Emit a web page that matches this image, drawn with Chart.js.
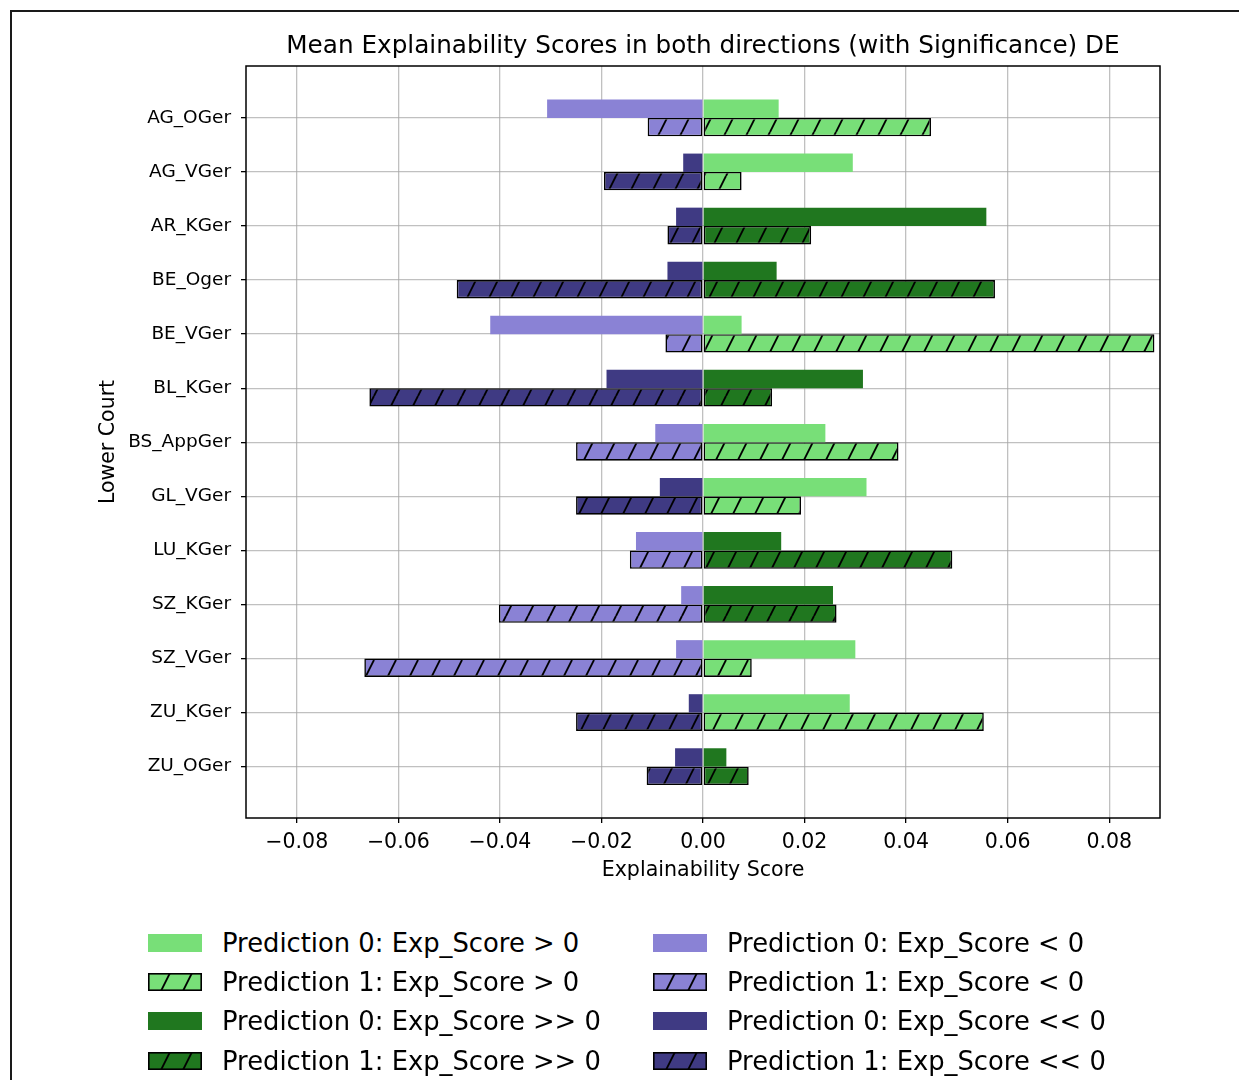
<!DOCTYPE html>
<html>
<head>
<meta charset="utf-8">
<script src="https://cdn.jsdelivr.net/npm/chart.js@4.4.0/dist/chart.umd.min.js"></script>
<style>
    body { margin: 0; background: #fff; font-family: 'DejaVu Sans', sans-serif; }
    #page { position: relative; width: 1239px; height: 1080px; overflow: hidden; background: #fff; }
    #frame { position: absolute; left: 10px; top: 10px; width: 1400px; height: 1200px;
             border-top: 2px solid #1a1a1a; border-left: 2px solid #1a1a1a; }
    #my-chart { position: absolute; left: 0; top: 0; }
    #title { position: absolute; left: 203px; width: 1000px; top: 29px; text-align: center;
             font-size: 24.7px; line-height: 32px; color: #000; white-space: nowrap; }
    #legend { position: absolute; left: 148px; top: 923px; display: grid;
              grid-template-columns: 505px auto; grid-auto-rows: 39.4px; }
    .item { display: flex; align-items: center; font-size: 25.8px; color: #000; white-space: nowrap; }
    .item canvas { margin-right: 20px; }
</style>
</head>
<body>
<div id="page">
    <div id="frame"></div>
    <canvas id="my-chart" width="1239" height="900"></canvas>
    <div id="title">Mean Explainability Scores in both directions (with Significance) DE</div>
    <div id="legend"></div>
</div>
<script>
const courts = ['AG_OGer', 'AG_VGer', 'AR_KGer', 'BE_Oger', 'BE_VGer', 'BL_KGer', 'BS_AppGer',
    'GL_VGer', 'LU_KGer', 'SZ_KGer', 'SZ_VGer', 'ZU_KGer', 'ZU_OGer'];

// mean positive / negative scores, prediction 0 and prediction 1
const pred0Pos = [0.0149, 0.0295, 0.0558, 0.0145, 0.0076, 0.0315, 0.0241, 0.0322, 0.0154, 0.0256, 0.0300, 0.0289, 0.0046];
const pred0Neg = [-0.0307, -0.0039, -0.0053, -0.0070, -0.0419, -0.0190, -0.0094, -0.0085, -0.0132, -0.0043, -0.0053, -0.0028, -0.0055];
const pred1Pos = [0.0449, 0.0076, 0.0213, 0.0575, 0.0889, 0.0136, 0.0385, 0.0193, 0.0491, 0.0263, 0.0096, 0.0553, 0.0090];
const pred1Neg = [-0.0109, -0.0195, -0.0070, -0.0485, -0.0074, -0.0657, -0.0250, -0.0250, -0.0144, -0.0402, -0.0667, -0.0250, -0.0111];

// 1 = significant (>> 0 / << 0)
const posSignificant = [0, 0, 1, 1, 0, 1, 0, 0, 1, 1, 0, 0, 1];
const negSignificant = [0, 1, 1, 1, 0, 1, 0, 1, 0, 0, 0, 1, 1];

const xTicks = [-0.08, -0.06, -0.04, -0.02, 0, 0.02, 0.04, 0.06, 0.08];

const colors = {
    lightGreen: '#78df78',
    darkGreen: '#20771f',
    lightPurple: '#8a82d5',
    darkPurple: '#3f3a83'
};

const FONT = 'DejaVu Sans';

// diagonal "/" hatch on top of a fill colour
function hatch(ctx, color) {
    const tile = document.createElement('canvas');
    tile.width = 22;
    tile.height = 44;
    const g = tile.getContext('2d');
    g.fillStyle = color;
    g.fillRect(0, 0, 22, 44);
    g.strokeStyle = '#000';
    g.lineWidth = 1.9;
    for (let k = -1; k <= 1; k++) {
        g.beginPath();
        g.moveTo(k * 22, 44);
        g.lineTo(k * 22 + 22, 0);
        g.stroke();
    }
    return ctx.createPattern(tile, 'repeat');
}

const canvas = document.getElementById('my-chart');
const ctx = canvas.getContext('2d');

const posColor = (i) => posSignificant[i] ? colors.darkGreen : colors.lightGreen;
const negColor = (i) => negSignificant[i] ? colors.darkPurple : colors.lightPurple;

const toPoints = (values) => values.map((v, i) => ({ x: v, y: i }));

const solid = { borderWidth: 0 };
const hatched = { borderWidth: 1.6, borderColor: '#000', borderSkipped: false };

const data = {
    datasets: [
        { label: 'pred0 pos', stack: 'p0', data: toPoints(pred0Pos), backgroundColor: courts.map((c, i) => posColor(i)), ...solid },
        { label: 'pred0 neg', stack: 'p0', data: toPoints(pred0Neg), backgroundColor: courts.map((c, i) => negColor(i)), ...solid },
        { label: 'pred1 pos', stack: 'p1', data: toPoints(pred1Pos), backgroundColor: courts.map((c, i) => hatch(ctx, posColor(i))), ...hatched },
        { label: 'pred1 neg', stack: 'p1', data: toPoints(pred1Neg), backgroundColor: courts.map((c, i) => hatch(ctx, negColor(i))), ...hatched }
    ]
};

// black box around the plot area
const axesFrame = {
    id: 'axesFrame',
    afterDraw(chart) {
        const { ctx, chartArea: a } = chart;
        ctx.save();
        ctx.strokeStyle = '#000';
        ctx.lineWidth = 1.5;
        ctx.strokeRect(a.left, a.top, a.right - a.left, a.bottom - a.top);
        ctx.restore();
    }
};

const gridStyle = { color: 'rgba(165,165,165,0.7)', lineWidth: 1.3, tickColor: '#000', tickLength: 5, tickWidth: 1.3, offset: false };

const config = {
    type: 'bar',
    data,
    options: {
        indexAxis: 'y',
        responsive: false,
        animation: false,
        categoryPercentage: 0.68,
        barPercentage: 1.0,
        layout: { padding: { left: 92, right: 79, top: 66, bottom: 13 } },
        plugins: {
            legend: { display: false },
            tooltip: { enabled: false }
        },
        scales: {
            x: {
                type: 'linear',
                min: -0.09,
                max: 0.09,
                stacked: true,
                z: 1,
                afterBuildTicks: (s) => { s.ticks = xTicks.map(v => ({ value: v })); },
                afterFit: (s) => { s.height = 69; },
                ticks: {
                    color: '#000',
                    padding: 7,
                    font: { family: FONT, size: 20.5 },
                    callback: (v) => (v < 0 ? '\u2212' : '') + Math.abs(v).toFixed(2)
                },
                grid: gridStyle,
                border: { display: false },
                title: { display: true, text: 'Explainability Score', color: '#000', font: { family: FONT, size: 20.6 } }
            },
            y: {
                type: 'linear',
                reverse: true,
                offset: false,
                min: -0.96,
                max: 12.95,
                stacked: true,
                z: 1,
                afterBuildTicks: (s) => { s.ticks = courts.map((c, i) => ({ value: i })); },
                afterFit: (s) => { s.width = 154; },
                ticks: {
                    color: '#000',
                    padding: 10,
                    font: { family: FONT, size: 18.5 },
                    callback: (v) => courts[v]
                },
                grid: gridStyle,
                border: { display: false },
                title: { display: true, text: 'Lower Court', color: '#000', font: { family: FONT, size: 20.5 } }
            }
        }
    },
    plugins: [axesFrame]
};

const myChart = new Chart(canvas, config);

// legend, two columns
const legendItems = [
    ['Prediction 0: Exp_Score > 0', colors.lightGreen, false],
    ['Prediction 0: Exp_Score < 0', colors.lightPurple, false],
    ['Prediction 1: Exp_Score > 0', colors.lightGreen, true],
    ['Prediction 1: Exp_Score < 0', colors.lightPurple, true],
    ['Prediction 0: Exp_Score >> 0', colors.darkGreen, false],
    ['Prediction 0: Exp_Score << 0', colors.darkPurple, false],
    ['Prediction 1: Exp_Score >> 0', colors.darkGreen, true],
    ['Prediction 1: Exp_Score << 0', colors.darkPurple, true]
];

const legend = document.getElementById('legend');
legendItems.forEach(([text, color, isHatched]) => {
    const item = document.createElement('div');
    item.className = 'item';
    const sw = document.createElement('canvas');
    sw.width = 54;
    sw.height = 18;
    const g = sw.getContext('2d');
    g.fillStyle = isHatched ? hatch(g, color) : color;
    g.fillRect(0, 0, 54, 18);
    if (isHatched) {
        g.strokeStyle = '#000';
        g.lineWidth = 1.6;
        g.strokeRect(0.8, 0.8, 52.4, 16.4);
    }
    const span = document.createElement('span');
    span.textContent = text;
    item.appendChild(sw);
    item.appendChild(span);
    legend.appendChild(item);
});
</script>
</body>
</html>
